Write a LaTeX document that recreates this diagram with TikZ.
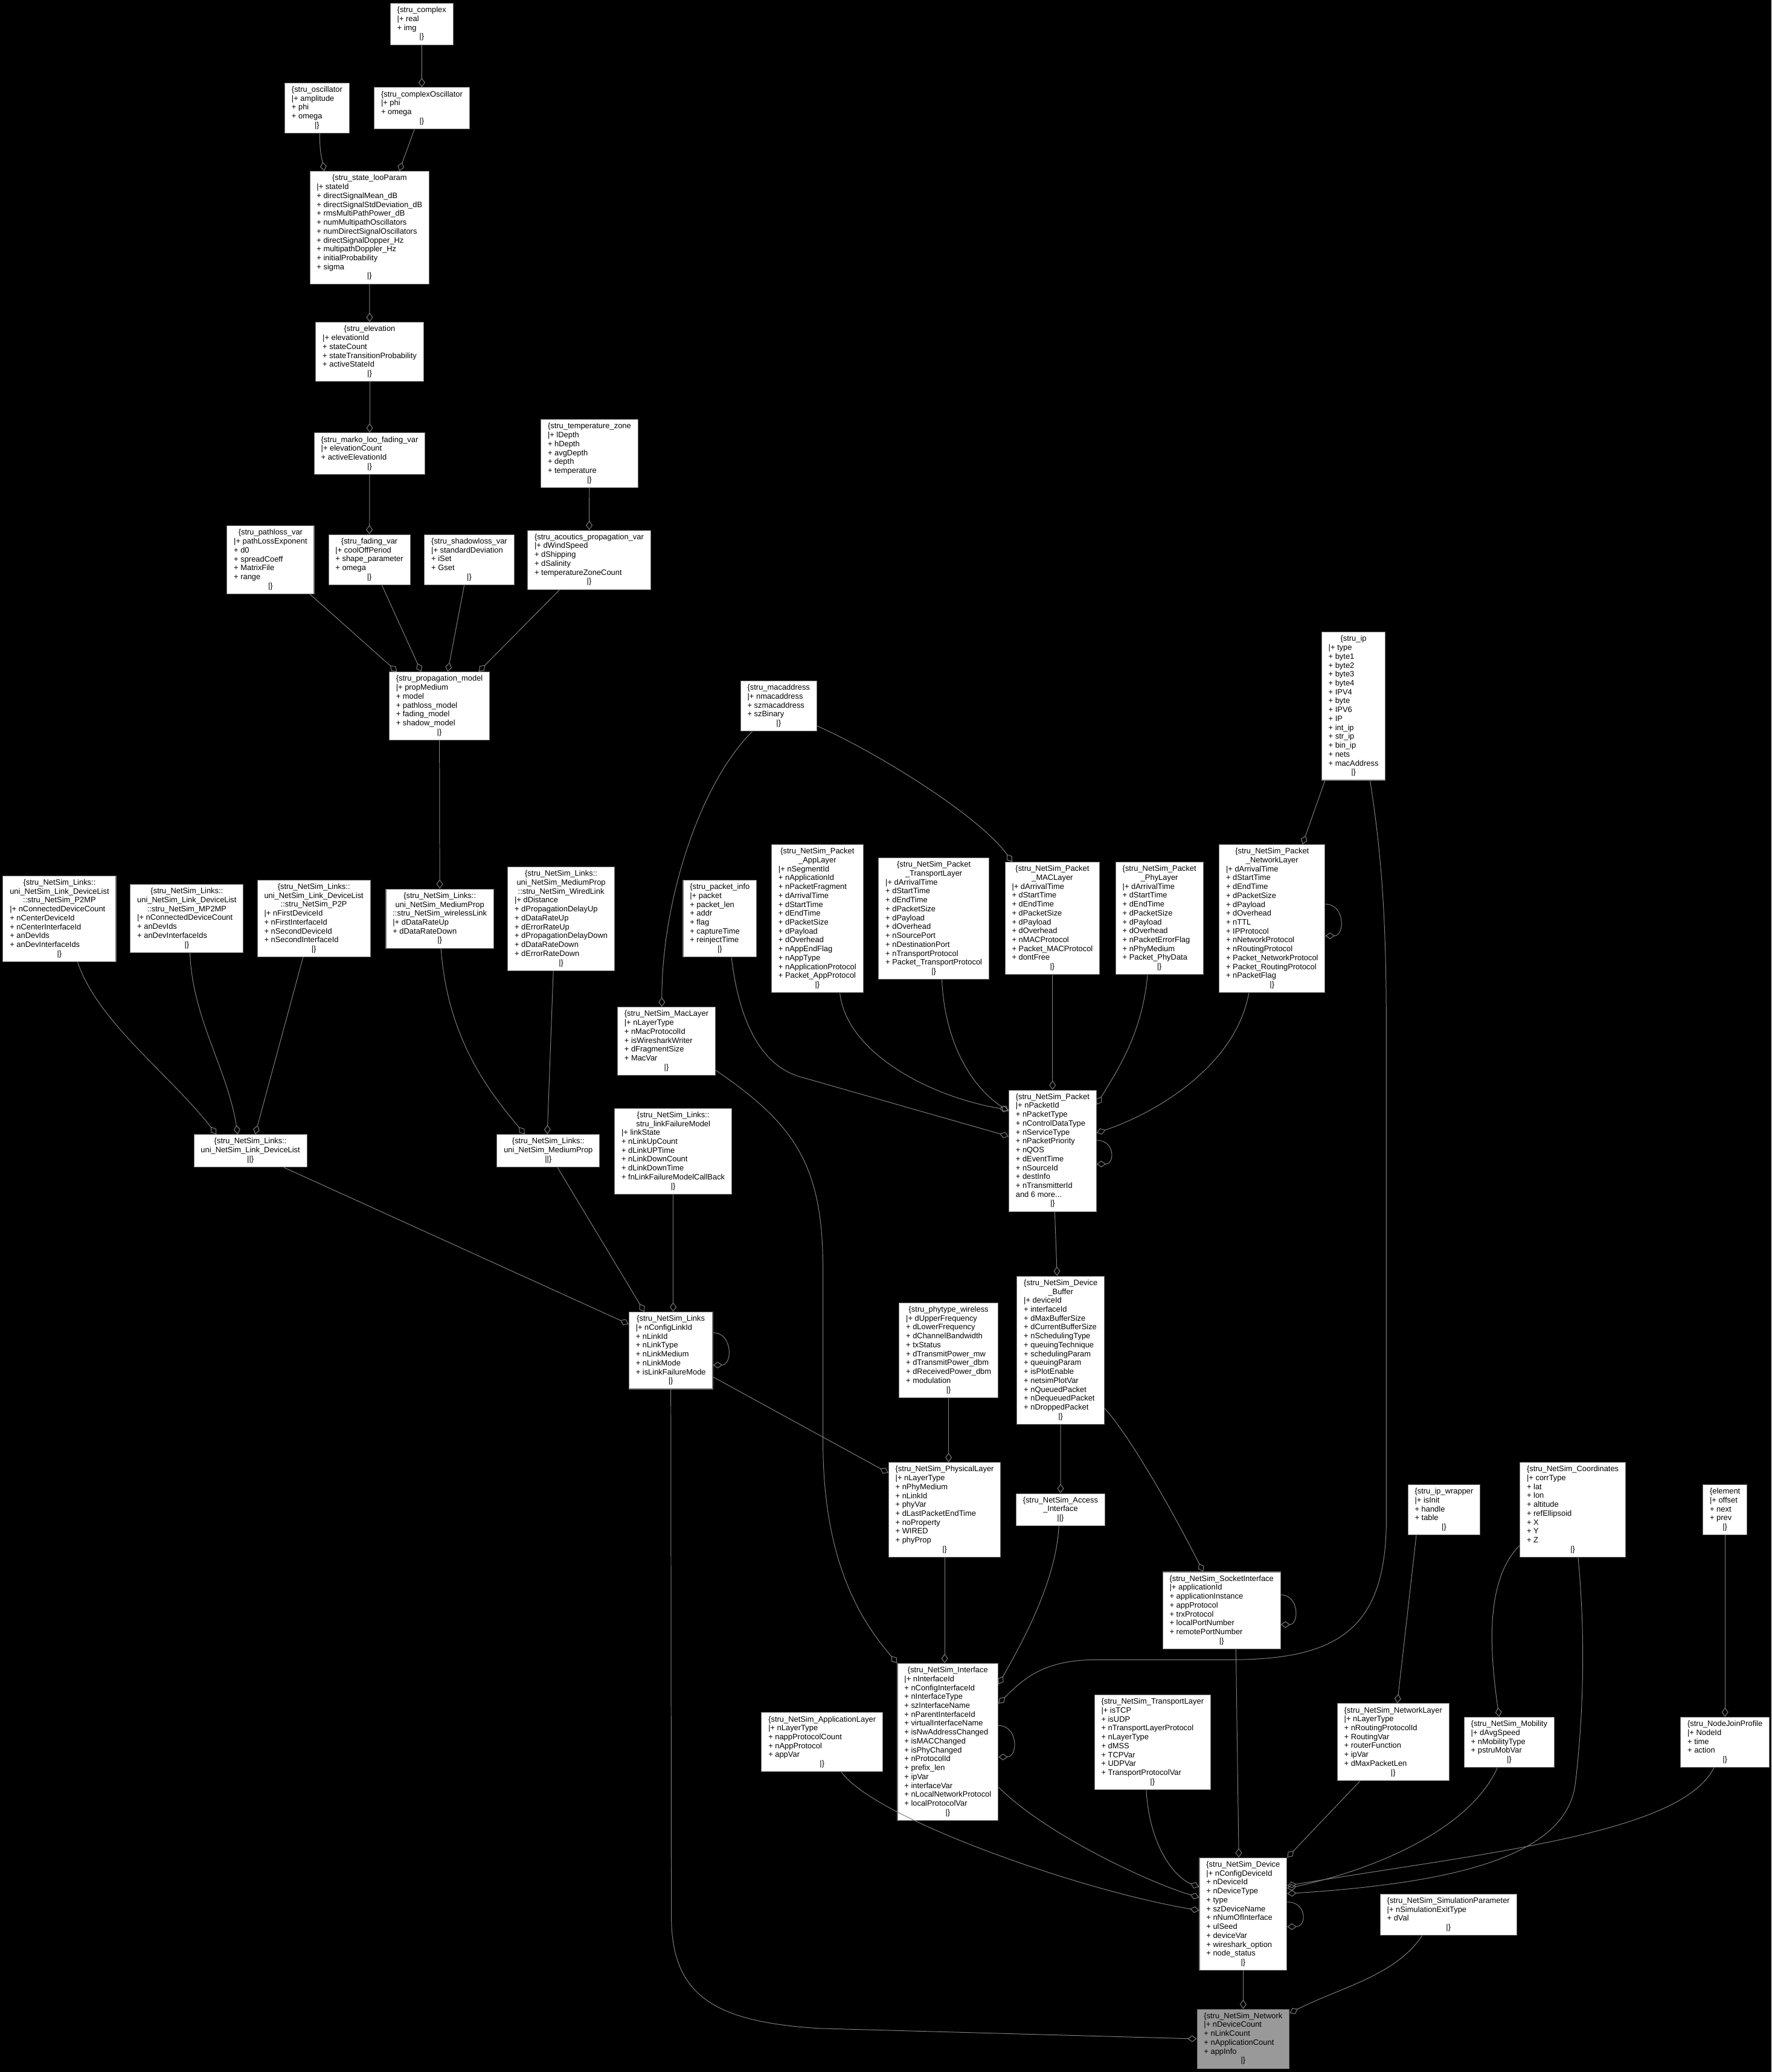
\documentclass[tikz,border=0pt]{standalone}
\usepackage{fontspec}
\setmainfont{Liberation Sans}
\usetikzlibrary{arrows.meta}
\definecolor{edgegray}{gray}{0.5}
\definecolor{boxgray}{gray}{0.45}
\definecolor{rootgray}{gray}{0.6}
\newcommand{\recfont}{\fontsize{5.9}{6.73}\selectfont}
\newcommand{\hd}[1]{\multicolumn{1}{@{}c@{}}{#1}}
\newcommand{\fields}[1]{\begin{tabular}{@{}l@{}}#1\end{tabular}}
\begin{document}
\begin{tikzpicture}
	[x=1pt,y=-1pt,
	 every node/.style={rectangle, draw=boxgray, line width=0.5pt, fill=white, text=black, inner xsep=5.2pt, inner ysep=2.2pt, font=\recfont},
	 root/.style={fill=rootgray},
	 agg/.style={draw=edgegray, line width=0.45pt, -{Diamond[open,length=7pt,width=5pt]}}]
	\fill[black] (0,0) rectangle (1340.5,1568);
	\useasboundingbox (0,0) rectangle (1340.5,1568);

	\node (cplx) at (319.1,18.2) {\fields{\hd{\{stru\_complex}\\ |+ real\\ + img\\ \hd{|\}}}};
	\node (osc) at (239.9,81.8) {\fields{\hd{\{stru\_oscillator}\\ |+ amplitude\\ + phi\\ + omega\\ \hd{|\}}}};
	\node (cosc) at (319.2,81.9) {\fields{\hd{\{stru\_complexOscillator}\\ |+ phi\\ + omega\\ \hd{|\}}}};
	\node (loo) at (279.6,172.3) {\fields{\hd{\{stru\_state\_looParam}\\ |+ stateId\\ + directSignalMean\_dB\\
								+ directSignalStdDeviation\_dB\\ + rmsMultiPathPower\_dB\\ + numMultipathOscillators\\
								+ numDirectSignalOscillators\\ + directSignalDopper\_Hz\\ + multipathDoppler\_Hz\\
								+ initialProbability\\ + sigma\\ \hd{|\}}}};
	\node (elev) at (279.7,266.3) {\fields{\hd{\{stru\_elevation}\\ |+ elevationId\\ + stateCount\\
								+ stateTransitionProbability\\ + activeStateId\\ \hd{|\}}}};
	\node (marko) at (279.7,343.3) {\fields{\hd{\{stru\_marko\_loo\_fading\_var}\\ |+ elevationCount\\ + activeElevationId\\ \hd{|\}}}};
	\node (temp) at (446,343.3) {\fields{\hd{\{stru\_temperature\_zone}\\ |+ lDepth\\ + hDepth\\ + avgDepth\\ + depth\\ + temperature\\ \hd{|\}}}};
	\node (pathl) at (204.7,423.7) {\fields{\hd{\{stru\_pathloss\_var}\\ |+ pathLossExponent\\ + d0\\ + spreadCoeff\\ + MatrixFile\\ + range\\ \hd{|\}}}};
	\node (fade) at (279.5,423.6) {\fields{\hd{\{stru\_fading\_var}\\ |+ coolOffPeriod\\ + shape\_parameter\\ + omega\\ \hd{|\}}}};
	\node (shadow) at (355.1,423.6) {\fields{\hd{\{stru\_shadowloss\_var}\\ |+ standardDeviation\\ + iSet\\ + Gset\\ \hd{|\}}}};
	\node (acou) at (445.8,423.7) {\fields{\hd{\{stru\_acoutics\_propagation\_var}\\ |+ dWindSpeed\\ + dShipping\\ + dSalinity\\
								+ temperatureZoneCount\\ \hd{|\}}}};
	\node (prop) at (332.5,534.3) {\fields{\hd{\{stru\_propagation\_model}\\ |+ propMedium\\ + model\\ + pathloss\_model\\
								+ fading\_model\\ + shadow\_model\\ \hd{|\}}}};

	\node (ptwomp) at (45,695.3) {\fields{\hd{\{stru\_NetSim\_Links::}\\ \hd{uni\_NetSim\_Link\_DeviceList}\\ \hd{::stru\_NetSim\_P2MP}\\
								|+ nConnectedDeviceCount\\ + nCenterDeviceId\\ + nCenterInterfaceId\\ + anDevIds\\
								+ anDevInterfaceIds\\ \hd{|\}}}};
	\node (mptwomp) at (141.4,695.1) {\fields{\hd{\{stru\_NetSim\_Links::}\\ \hd{uni\_NetSim\_Link\_DeviceList}\\ \hd{::stru\_NetSim\_MP2MP}\\
								|+ nConnectedDeviceCount\\ + anDevIds\\ + anDevInterfaceIds\\ \hd{|\}}}};
	\node (ptwop) at (237.5,695.1) {\fields{\hd{\{stru\_NetSim\_Links::}\\ \hd{uni\_NetSim\_Link\_DeviceList}\\ \hd{::stru\_NetSim\_P2P}\\
								|+ nFirstDeviceId\\ + nFirstInterfaceId\\ + nSecondDeviceId\\ + nSecondInterfaceId\\ \hd{|\}}}};
	\node (wless) at (332.8,695.2) {\fields{\hd{\{stru\_NetSim\_Links::}\\ \hd{uni\_NetSim\_MediumProp}\\ \hd{::stru\_NetSim\_wirelessLink}\\
								|+ dDataRateUp\\ + dDataRateDown\\ \hd{|\}}}};
	\node (wired) at (424.6,695.3) {\fields{\hd{\{stru\_NetSim\_Links::}\\ \hd{uni\_NetSim\_MediumProp}\\ \hd{::stru\_NetSim\_WiredLink}\\
								|+ dDistance\\ + dPropagationDelayUp\\ + dDataRateUp\\ + dErrorRateUp\\
								+ dPropagationDelayDown\\ + dDataRateDown\\ + dErrorRateDown\\ \hd{|\}}}};
	\node (devlist) at (189.5,870.9) {\fields{\hd{\{stru\_NetSim\_Links::}\\ \hd{uni\_NetSim\_Link\_DeviceList}\\ \hd{||\}}}};
	\node (medium) at (414.9,870.9) {\fields{\hd{\{stru\_NetSim\_Links::}\\ \hd{uni\_NetSim\_MediumProp}\\ \hd{||\}}}};

	\node (macaddr) at (589.2,534.3) {\fields{\hd{\{stru\_macaddress}\\ |+ nmacaddress\\ + szmacaddress\\ + szBinary\\ \hd{|\}}}};
	\node (ip) at (1024.2,534.4) {\fields{\hd{\{stru\_ip}\\ |+ type\\ + byte1\\ + byte2\\ + byte3\\ + byte4\\ + IPV4\\ + byte\\
								+ IPV6\\ + IP\\ + int\_ip\\ + str\_ip\\ + bin\_ip\\ + nets\\ + macAddress\\ \hd{|\}}}};
	\node (pinfo) at (544.7,695.2) {\fields{\hd{\{stru\_packet\_info}\\ |+ packet\\ + packet\_len\\ + addr\\ + flag\\
								+ captureTime\\ + reinjectTime\\ \hd{|\}}}};
	\node (papp) at (618.5,695.2) {\fields{\hd{\{stru\_NetSim\_Packet}\\ \hd{\_AppLayer}\\ |+ nSegmentId\\ + nApplicationId\\
								+ nPacketFragment\\ + dArrivalTime\\ + dStartTime\\ + dEndTime\\ + dPacketSize\\ + dPayload\\
								+ dOverhead\\ + nAppEndFlag\\ + nAppType\\ + nApplicationProtocol\\ + Packet\_AppProtocol\\ \hd{|\}}}};
	\node (ptrans) at (706.6,695.2) {\fields{\hd{\{stru\_NetSim\_Packet}\\ \hd{\_TransportLayer}\\ |+ dArrivalTime\\ + dStartTime\\
								+ dEndTime\\ + dPacketSize\\ + dPayload\\ + dOverhead\\ + nSourcePort\\ + nDestinationPort\\
								+ nTransportProtocol\\ + Packet\_TransportProtocol\\ \hd{|\}}}};
	\node (pmac) at (796.3,695) {\fields{\hd{\{stru\_NetSim\_Packet}\\ \hd{\_MACLayer}\\ |+ dArrivalTime\\ + dStartTime\\
								+ dEndTime\\ + dPacketSize\\ + dPayload\\ + dOverhead\\ + nMACProtocol\\ + Packet\_MACProtocol\\
								+ dontFree\\ \hd{|\}}}};
	\node (pphy) at (877.3,695) {\fields{\hd{\{stru\_NetSim\_Packet}\\ \hd{\_PhyLayer}\\ |+ dArrivalTime\\ + dStartTime\\
								+ dEndTime\\ + dPacketSize\\ + dPayload\\ + dOverhead\\ + nPacketErrorFlag\\ + nPhyMedium\\
								+ Packet\_PhyData\\ \hd{|\}}}};
	\node (pnet) at (962.6,695.2) {\fields{\hd{\{stru\_NetSim\_Packet}\\ \hd{\_NetworkLayer}\\ |+ dArrivalTime\\ + dStartTime\\
								+ dEndTime\\ + dPacketSize\\ + dPayload\\ + dOverhead\\ + nTTL\\ + IPProtocol\\
								+ nNetworkProtocol\\ + nRoutingProtocol\\ + Packet\_NetworkProtocol\\ + Packet\_RoutingProtocol\\
								+ nPacketFlag\\ \hd{|\}}}};

	\node (maclayer) at (504.3,787.9) {\fields{\hd{\{stru\_NetSim\_MacLayer}\\ |+ nLayerType\\ + nMacProtocolId\\
								+ isWiresharkWriter\\ + dFragmentSize\\ + MacVar\\ \hd{|\}}}};
	\node (linkfail) at (509.4,871.2) {\fields{\hd{\{stru\_NetSim\_Links::}\\ \hd{stru\_linkFailureModel}\\ |+ linkState\\
								+ nLinkUpCount\\ + dLinkUPTime\\ + nLinkDownCount\\ + dLinkDownTime\\
								+ fnLinkFailureModelCallBack\\ \hd{|\}}}};
	\node (packet) at (796.5,870.9) {\fields{\hd{\{stru\_NetSim\_Packet}\\ |+ nPacketId\\ + nPacketType\\ + nControlDataType\\
								+ nServiceType\\ + nPacketPriority\\ + nQOS\\ + dEventTime\\ + nSourceId\\ + destInfo\\
								+ nTransmitterId\\ and 6 more...\\ \hd{|\}}}};
	\node (buffer) at (802.6,1021.8) {\fields{\hd{\{stru\_NetSim\_Device}\\ \hd{\_Buffer}\\ |+ deviceId\\ + interfaceId\\
								+ dMaxBufferSize\\ + dCurrentBufferSize\\ + nSchedulingType\\ + queuingTechnique\\
								+ schedulingParam\\ + queuingParam\\ + isPlotEnable\\ + netsimPlotVar\\ + nQueuedPacket\\
								+ nDequeuedPacket\\ + nDroppedPacket\\ \hd{|\}}}};
	\node (links) at (507.6,1022) {\fields{\hd{\{stru\_NetSim\_Links}\\ |+ nConfigLinkId\\ + nLinkId\\ + nLinkType\\
								+ nLinkMedium\\ + nLinkMode\\ + isLinkFailureMode\\ \hd{|\}}}};
	\node (phytype) at (717.8,1021.8) {\fields{\hd{\{stru\_phytype\_wireless}\\ |+ dUpperFrequency\\ + dLowerFrequency\\
								+ dChannelBandwidth\\ + txStatus\\ + dTransmitPower\_mw\\ + dTransmitPower\_dbm\\
								+ dReceivedPower\_dbm\\ + modulation\\ \hd{|\}}}};
	\node (phys) at (714.8,1142.6) {\fields{\hd{\{stru\_NetSim\_PhysicalLayer}\\ |+ nLayerType\\ + nPhyMedium\\ + nLinkId\\
								+ phyVar\\ + dLastPacketEndTime\\ + noProperty\\ + WIRED\\ + phyProp\\ \hd{|\}}}};
	\node (access) at (802.5,1142.5) {\fields{\hd{\{stru\_NetSim\_Access}\\ \hd{\_Interface}\\ \hd{||\}}}};
	\node (socket) at (924.4,1218.7) {\fields{\hd{\{stru\_NetSim\_SocketInterface}\\ |+ applicationId\\ + applicationInstance\\
								+ appProtocol\\ + trxProtocol\\ + localPortNumber\\ + remotePortNumber\\ \hd{|\}}}};
	\node (iface) at (717.2,1318.2) {\fields{\hd{\{stru\_NetSim\_Interface}\\ |+ nInterfaceId\\ + nConfigInterfaceId\\
								+ nInterfaceType\\ + szInterfaceName\\ + nParentInterfaceId\\ + virtualInterfaceName\\
								+ isNwAddressChanged\\ + isMACChanged\\ + isPhyChanged\\ + nProtocolId\\ + prefix\_len\\
								+ ipVar\\ + interfaceVar\\ + nLocalNetworkProtocol\\ + localProtocolVar\\ \hd{|\}}}};
	\node (applayer) at (622.1,1318.4) {\fields{\hd{\{stru\_NetSim\_ApplicationLayer}\\ |+ nLayerType\\ + nappProtocolCount\\
								+ nAppProtocol\\ + appVar\\ \hd{|\}}}};
	\node (translayer) at (872.1,1318.5) {\fields{\hd{\{stru\_NetSim\_TransportLayer}\\ |+ isTCP\\ + isUDP\\
								+ nTransportLayerProtocol\\ + nLayerType\\ + dMSS\\ + TCPVar\\ + UDPVar\\
								+ TransportProtocolVar\\ \hd{|\}}}};

	\node (ipwrap) at (1092.7,1142.6) {\fields{\hd{\{stru\_ip\_wrapper}\\ |+ isInit\\ + handle\\ + table\\ \hd{|\}}}};
	\node (coord) at (1190.1,1142.5) {\fields{\hd{\{stru\_NetSim\_Coordinates}\\ |+ corrType\\ + lat\\ + lon\\ + altitude\\
								+ refEllipsoid\\ + X\\ + Y\\ + Z\\ \hd{|\}}}};
	\node (element) at (1305.3,1142.6) {\fields{\hd{\{element}\\ |+ offset\\ + next\\ + prev\\ \hd{|\}}}};
	\node (netlayer) at (1054.2,1318.3) {\fields{\hd{\{stru\_NetSim\_NetworkLayer}\\ |+ nLayerType\\ + nRoutingProtocolId\\
								+ RoutingVar\\ + routerFunction\\ + ipVar\\ + dMaxPacketLen\\ \hd{|\}}}};
	\node (mobility) at (1142,1318.5) {\fields{\hd{\{stru\_NetSim\_Mobility}\\ |+ dAvgSpeed\\ + nMobilityType\\
								+ pstruMobVar\\ \hd{|\}}}};
	\node (nodejoin) at (1305.3,1318.5) {\fields{\hd{\{stru\_NodeJoinProfile}\\ |+ NodeId\\ + time\\ + action\\ \hd{|\}}}};
	\node (device) at (940.7,1448.5) {\fields{\hd{\{stru\_NetSim\_Device}\\ |+ nConfigDeviceId\\ + nDeviceId\\ + nDeviceType\\
								+ type\\ + szDeviceName\\ + nNumOfInterface\\ + ulSeed\\ + deviceVar\\ + wireshark\_option\\
								+ node\_status\\ \hd{|\}}}};
	\node (simparam) at (1096,1449) {\fields{\hd{\{stru\_NetSim\_SimulationParameter}\\ |+ nSimulationExitType\\ + dVal\\ \hd{|\}}}};
	\node (network)[root] at (940.7,1542.9) {\fields{\hd{\{stru\_NetSim\_Network}\\ |+ nDeviceCount\\ + nLinkCount\\
								+ nApplicationCount\\ + appInfo\\ \hd{|\}}}};

	\draw[agg] (cplx) -- (cosc);
	\draw[agg] ([xshift=2pt]osc.south) .. controls +(0,14) and +(-2,-10) .. ([xshift=-34.2pt]loo.north);
	\draw[agg] ([xshift=-5.6pt]cosc.south) -- ([xshift=22.5pt]loo.north);
	\draw[agg] (loo) -- (elev);
	\draw[agg] (elev) -- (marko);
	\draw[agg] (marko) -- (fade);
	\draw[agg] (temp) -- (acou);
	\draw[agg] ([xshift=29.9pt]pathl.south) -- ([xshift=-32.1pt]prop.north);
	\draw[agg] ([xshift=9.5pt]fade.south) -- ([xshift=-13.8pt]prop.north);
	\draw[agg] ([xshift=-3.8pt]shadow.south) -- ([xshift=6.3pt]prop.north);
	\draw[agg] ([xshift=-22.4pt]acou.south) -- ([xshift=29.7pt]prop.north);
	\draw[agg] (prop) -- (wless);
	\draw[agg] ([xshift=13.7pt]ptwomp.south) .. controls +(15,45) and +(-35,-45) .. ([xshift=-25.7pt]devlist.north);
	\draw[agg] ([xshift=2.3pt]mptwomp.south) .. controls +(2,50) and +(-8,-50) .. ([xshift=-9.6pt]devlist.north);
	\draw[agg] ([xshift=-8.2pt]ptwop.south) -- ([xshift=3.6pt]devlist.north);
	\draw[agg] ([xshift=0.9pt]wless.south) .. controls +(5,70) and +(-25,-30) .. ([xshift=-17.8pt]medium.north);
	\draw[agg] ([xshift=-5.9pt]wired.south) -- ([xshift=-0.8pt]medium.north);
	\draw[agg] ([xshift=25.3pt]devlist.south) -- ([yshift=20pt]links.west);
	\draw[agg] ([xshift=6.9pt]medium.south) -- ([xshift=-20pt]links.north);
	\draw[agg] (linkfail.south) -- (linkfail.south |- links.north);
	\draw[agg] ([yshift=-20pt]links.east) -- ([yshift=28pt]phys.west);
	\draw[agg] ([yshift=13.5pt]links.east) .. controls +(15,0) and +(15,0) .. ([yshift=-11pt]links.east);
	\draw[agg] (links.south) -- (508,1450) .. controls (508,1510) and (540,1530) .. (620,1535) -- (network.west);

	\draw[agg] ([xshift=-20pt]macaddr.south) .. controls +(-40,40) and +(0,-80) .. ([xshift=-3.5pt]maclayer.north);
	\draw[agg] ([yshift=-15pt]macaddr.east) .. controls +(45,20) and +(-25,-35) .. ([xshift=-30.4pt]pmac.north);
	\draw[agg] ([yshift=-22pt]maclayer.east) .. controls (600,850) and (622.7,880) .. (622.7,960) -- (622.7,1090)
				.. controls (622.7,1180) and (650,1225) .. (iface.north west);
	\draw[agg] ([xshift=8.8pt]pinfo.south) .. controls (560,780) and (580,808) .. (606,815) -- ([yshift=11pt]packet.west);
	\draw[agg] ([xshift=17pt]papp.south) .. controls +(5,45) and +(-60,-10) .. ([yshift=31pt]packet.west);
	\draw[agg] ([xshift=6.1pt]ptrans.south) .. controls +(2,45) and +(-30,-20) .. ([yshift=30pt]packet.west);
	\draw[agg] (pmac) -- (packet);
	\draw[agg] ([xshift=-9pt]pphy.south) .. controls +(-4,45) and +(15,-25) .. ([yshift=35pt]packet.east);
	\draw[agg] ([xshift=-17.6pt]pnet.south) .. controls +(-10,55) and +(45,-15) .. ([yshift=13.6pt]packet.east);
	\draw[agg] ([yshift=11pt]pnet.east) .. controls +(15,0) and +(15,0) .. ([yshift=-13pt]pnet.east);
	\draw[agg] ([xshift=-21.6pt]ip.south) -- ([xshift=23pt]pnet.north);
	\draw[agg] ([xshift=12.5pt]ip.south) .. controls (1046,650) and (1049,700) .. (1049,780) -- (1049,1150)
				.. controls (1049,1235) and (1010,1256) .. (930,1256) -- (830,1256)
				.. controls (790,1256) and (775,1270) .. ([yshift=29pt]iface.east);
	\draw[agg] ([yshift=8pt]packet.east) .. controls +(14,0) and +(14,0) .. ([yshift=-10pt]packet.east);
	\draw[agg] ([xshift=1.6pt]packet.south) -- ([xshift=-2.7pt]buffer.north);
	\draw[agg] (buffer) -- (access);
	\draw[agg] ([yshift=-44pt]buffer.east) .. controls +(20,22) and +(-20,-40) .. ([xshift=-14pt]socket.north);
	\draw[agg] (phytype.south) -- (phytype.south |- phys.north);
	\draw[agg] (phys.south) -- (phys.south |- iface.north);
	\draw[agg] ([xshift=-1.3pt]access.south) .. controls +(-2,40) and +(20,-35) .. ([yshift=43.6pt]iface.east);
	\draw[agg] ([yshift=12.4pt]iface.east) .. controls +(15,0) and +(15,0) .. ([yshift=-11.4pt]iface.east);
	\draw[agg] ([yshift=11.8pt]socket.east) .. controls +(14,0) and +(14,0) .. ([yshift=-10.7pt]socket.east);

	\draw[agg] ([xshift=10.8pt]socket.south) -- ([xshift=-3.3pt]device.north);
	\draw[agg] ([yshift=-34.2pt]iface.east) .. controls +(35,35) and +(-40,-12) .. ([yshift=12.6pt]device.west);
	\draw[agg] ([xshift=14.6pt]applayer.south) .. controls +(25,35) and +(-90,-15) .. ([yshift=2.8pt]device.west);
	\draw[agg] ([xshift=-4.7pt]translayer.south) .. controls +(2,40) and +(-20,-8) .. ([yshift=20.5pt]device.west);
	\draw[agg] ([xshift=-21pt]ipwrap.south) -- ([xshift=3.1pt]netlayer.north);
	\draw[agg] ([xshift=-25pt]netlayer.south) -- (device.north east);
	\draw[agg] ([xshift=-9pt]mobility.south) .. controls +(-20,45) and +(70,-15) .. ([yshift=19.5pt]device.east);
	\draw[agg] ([yshift=-27pt]coord.west) .. controls +(-25,25) and +(-8,-55) .. ([xshift=-7.6pt]mobility.north);
	\draw[agg] ([xshift=4pt]coord.south) .. controls (1200,1240) and (1198,1300) .. (1192,1350)
				.. controls (1185,1405) and (1100,1425) .. ([yshift=15.5pt]device.east);
	\draw[agg] (element) -- (nodejoin);
	\draw[agg] ([xshift=-8.4pt]nodejoin.south) .. controls +(-25,50) and +(150,-25) .. ([yshift=21.5pt]device.east);
	\draw[agg] ([yshift=9.2pt]device.east) .. controls +(15,0) and +(15,0) .. ([yshift=-9.5pt]device.east);
	\draw[agg] (device) -- (network);
	\draw[agg] ([xshift=-20pt]simparam.south) .. controls +(-20,30) and +(40,-20) .. ([yshift=19.5pt]network.east);
\end{tikzpicture}
\end{document}
